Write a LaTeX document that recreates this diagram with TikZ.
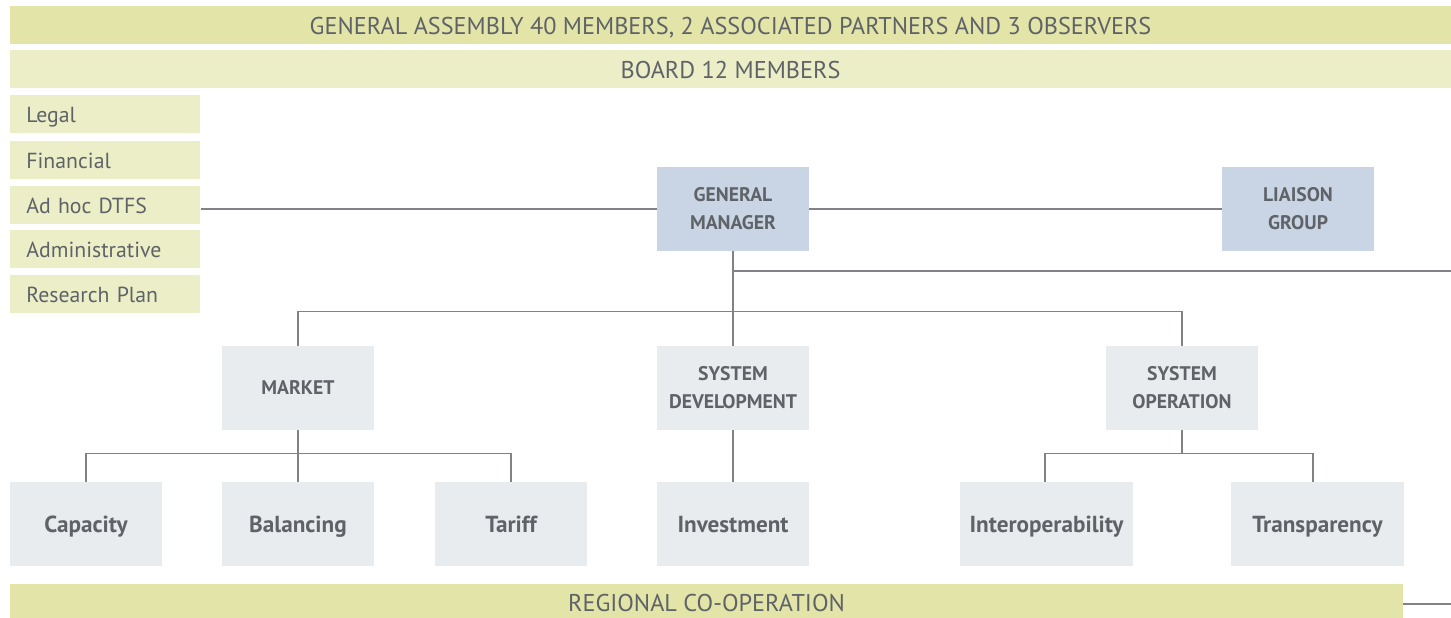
\documentclass[tikz,border=0pt]{standalone}
\usepackage{fontspec}
\setmainfont{PT Sans}
\setsansfont{PT Sans}
\usetikzlibrary{positioning}
\definecolor{cbar}{HTML}{E3E4A8}
\definecolor{cbarlight}{HTML}{EBEEC6}
\definecolor{chead}{HTML}{C9D5E5}
\definecolor{cunit}{HTML}{E8ECEF}
\definecolor{ctext}{HTML}{5F6368}
\definecolor{cline}{HTML}{808285}
\tikzset{
  every picture/.style={x=0.02cm, y=-0.02cm},
  bar/.style={fill=#1, text=ctext, inner sep=0pt, minimum height=0.76cm, text height=10.6pt, text depth=0pt,
    font=\fontsize{13.8}{16}\selectfont},
  bar/.default=cbar,
  task/.style={fill=cbarlight, text=ctext, anchor=west, align=left, inner xsep=0.32cm, inner ysep=0pt,
    text width=3.16cm, minimum height=0.76cm, text height=9.8pt, text depth=0pt, font=\fontsize{12.4}{15}\selectfont},
  unit/.style={fill=#1, text=ctext, align=center, inner sep=0pt, minimum width=3.04cm, minimum height=1.68cm,
    font=\bfseries\fontsize{11.2}{16}\selectfont},
  unit/.default=cunit,
  leaf/.style={unit, text height=9.4pt, text depth=0pt, font=\bfseries\fontsize{13.2}{15}\selectfont},
  link/.style={draw=cline, line width=0.7pt},
}
\begin{document}
\begin{tikzpicture}
  \useasboundingbox (0,0) rectangle (1451,618);
  % bars across the page
  \node[bar, minimum width=28.82cm] (assembly) at (730.5,25) {GENERAL ASSEMBLY 40 MEMBERS, 2 ASSOCIATED PARTNERS AND 3 OBSERVERS};
  \node[bar=cbarlight, minimum width=28.82cm] (board) at (730.5,69) {BOARD 12 MEMBERS};
  \node[bar, minimum width=27.86cm, minimum height=0.68cm, text height=12.4pt] (regional) at (706.5,601) {REGIONAL CO-OPERATION};
  % task forces on the left
  \foreach \n/\y/\txt in {legal/114/Legal, financial/160/Financial, adhoc/205/Ad hoc DTFS,
      admin/249/Administrative, research/294/Research Plan}
    \node[task] (\n) at (10,\y) {\txt};
  % management
  \node[unit=chead] (gm) at (733,209) {GENERAL\\MANAGER};
  \node[unit=chead] (liaison) at (1298,209) {LIAISON\\GROUP};
  \node[unit] (market) at (298,388) {MARKET};
  \node[unit] (sysdev) at (733,388) {SYSTEM\\DEVELOPMENT};
  \node[unit] (sysop) at (1182,388) {SYSTEM\\OPERATION};
  % working groups
  \foreach \n/\x/\txt in {capacity/86/Capacity, balancing/298/Balancing, tariff/511/Tariff, investment/733/Investment}
    \node[leaf] (\n) at (\x,524) {\txt};
  \node[leaf, minimum width=3.46cm] (interop) at (1046.5,524) {Interoperability};
  \node[leaf, minimum width=3.46cm] (transp) at (1317.5,524) {Transparency};
  \coordinate (rim) at (1451,271);
  \coordinate (regend) at (1451,604);
  % connectors
  \draw[link] (gm.west) -- (gm.west -| adhoc.east);
  \draw[link] (gm) -- (liaison);
  \draw[link] (gm) -- (sysdev);
  \draw[link] (gm.south |- rim) -- (rim);
  \draw[link] (market.north) -- ++(0,-34) -| (sysop.north);
  \draw[link] (market) -- (balancing);
  \draw[link] (capacity.north) -- ++(0,-28) -| (tariff.north);
  \draw[link] (sysdev) -- (investment);
  \draw[link] (sysop.south) -- ++(0,24);
  \draw[link] ([xshift=-0.03cm]interop.north) -- ++(0,-28) -| ([xshift=-0.09cm]transp.north);
  \draw[link] (regional.east |- regend) -- (regend);
\end{tikzpicture}
\end{document}
